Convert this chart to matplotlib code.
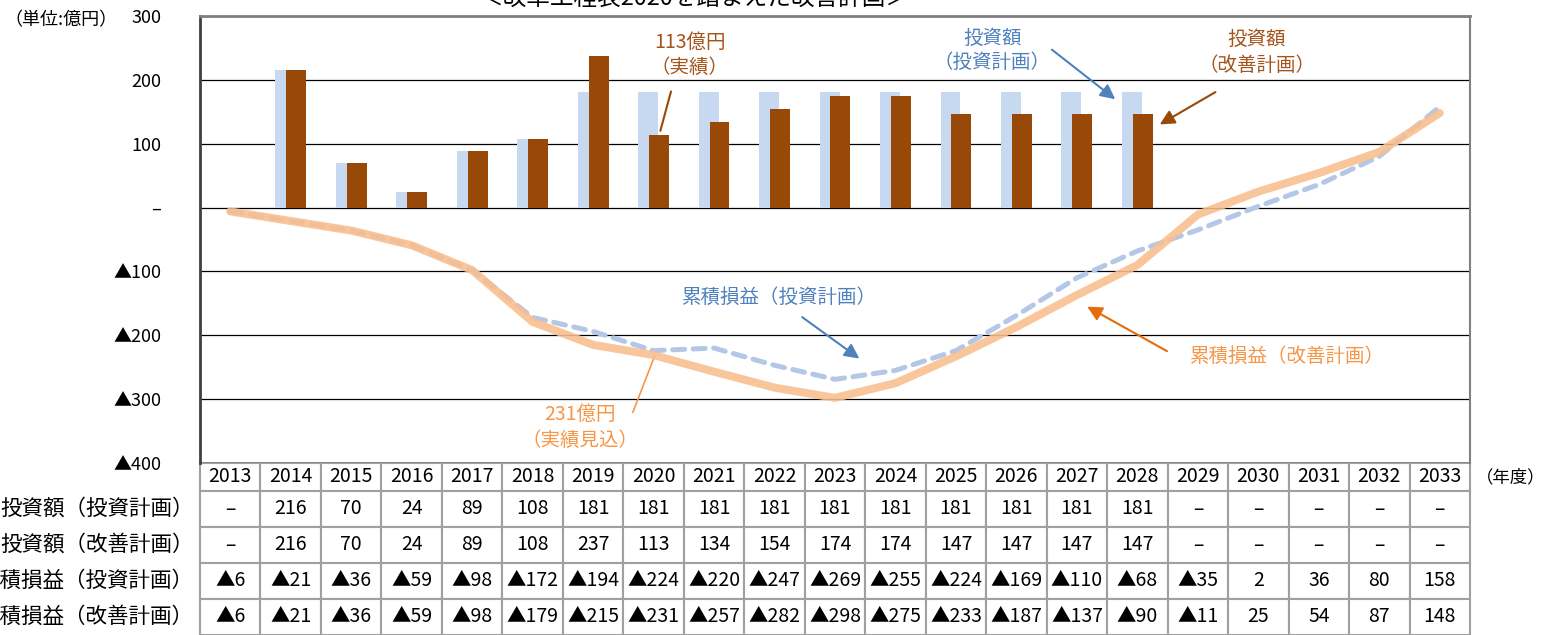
import numpy as np
import matplotlib
matplotlib.use("Agg")
import matplotlib.pyplot as plt

plt.rcParams['font.family'] = ['Noto Sans CJK JP', 'DejaVu Sans']

# data
years = [str(y) for y in range(2013, 2034)]
inv_plan = [None, 216, 70, 24, 89, 108, 181, 181, 181, 181, 181, 181, 181, 181, 181, 181,
            None, None, None, None, None]
inv_improve = [None, 216, 70, 24, 89, 108, 237, 113, 134, 154, 174, 174, 147, 147, 147, 147,
               None, None, None, None, None]
cum_plan = [-6, -21, -36, -59, -98, -172, -194, -224, -220, -247, -269, -255, -224, -169,
            -110, -68, -35, 2, 36, 80, 158]
cum_improve = [-6, -21, -36, -59, -98, -179, -215, -231, -257, -282, -298, -275, -233, -187,
               -137, -90, -11, 25, 54, 87, 148]
row_labels = ["投資額（投資計画）", "投資額（改善計画）", "累積損益（投資計画）", "累積損益（改善計画）"]
ytick_vals = [300, 200, 100, 0, -100, -200, -300, -400]

BLUE_BAR = "#C6D9F1"
BROWN = "#984807"
ORANGE_LINE = "#F9BE8E"
BLUE_LINE = "#B4C7E7"
BLUE_TXT = "#4F81BD"
BROWN_TXT = "#A5541A"
ORANGE_TXT = "#F79646"


def fmt(v):
    if v is None:
        return "–"
    if v < 0:
        return "▲" + str(-v)
    return str(v)


fig = plt.figure(figsize=(15.45, 6.35), dpi=100)
ax = fig.add_axes([200 / 1545, 1 - 463 / 635, 1270 / 1545, 447 / 635])

x = np.arange(len(years))
w = 0.33
off = 0.09
bx = [i for i, v in enumerate(inv_plan) if v is not None]
ax.bar([i - off for i in bx], [inv_plan[i] for i in bx], width=w, color=BLUE_BAR, zorder=2)
bx2 = [i for i, v in enumerate(inv_improve) if v is not None]
ax.bar([i + off for i in bx2], [inv_improve[i] for i in bx2], width=w, color=BROWN, zorder=3)

# cumulative lines
ax.plot(x, cum_plan, color=BLUE_LINE, lw=3.6, linestyle=(0, (2.4, 1.7)),
        dash_capstyle='round', zorder=4)
ax.plot(x, cum_improve, color=ORANGE_LINE, lw=5.8, alpha=0.88,
        solid_capstyle='round', solid_joinstyle='round', zorder=5)

ax.set_xlim(-0.5, len(years) - 0.5)
ax.set_ylim(-400, 300)
ax.set_xticks([])
ax.set_yticks(ytick_vals)
ax.set_yticklabels([fmt(v) if v != 0 else "–" for v in ytick_vals], fontsize=13)
ax.tick_params(axis='y', length=0, pad=28)
ax.yaxis.grid(True, color='black', lw=0.9)
ax.set_axisbelow(True)
for s in ['top', 'right']:
    ax.spines[s].set_color('#808080')
ax.spines['top'].set_linewidth(2)
ax.spines['right'].set_linewidth(1.5)
ax.spines['left'].set_color('#404040')
ax.spines['left'].set_linewidth(2)
ax.spines['bottom'].set_visible(False)

# annotations
fs = 14
ax.text(7.6, 239, "113億円\n（実績）", color=BROWN_TXT, fontsize=fs, ha='center', va='center',
        linespacing=1.3)
ax.annotate("", xy=(7.1, 116), xytext=(7.3, 186),
            arrowprops=dict(arrowstyle='-', color=BROWN, lw=1.5))
ax.text(12.6, 246, "投資額\n（投資計画）", color=BLUE_TXT, fontsize=fs, ha='center', va='center',
        linespacing=1.2)
ax.annotate("", xy=(14.67, 167), xytext=(13.55, 250),
            arrowprops=dict(arrowstyle='-|>', color=BLUE_TXT, lw=1.5, mutation_scale=22))
ax.text(16.97, 243, "投資額\n（改善計画）", color=BROWN_TXT, fontsize=fs, ha='center', va='center',
        linespacing=1.3)
ax.annotate("", xy=(15.33, 128), xytext=(16.33, 183),
            arrowprops=dict(arrowstyle='-|>', color=BROWN, lw=1.5, mutation_scale=22))
ax.text(9.09, -141, "累積損益（投資計画）", color=BLUE_TXT, fontsize=fs, ha='center', va='center')
ax.annotate("", xy=(10.44, -239), xytext=(9.42, -169),
            arrowprops=dict(arrowstyle='-|>', color=BLUE_TXT, lw=1.5, mutation_scale=22))
ax.text(17.48, -233, "累積損益（改善計画）", color=ORANGE_TXT, fontsize=fs, ha='center', va='center')
ax.annotate("", xy=(14.13, -153), xytext=(15.53, -227),
            arrowprops=dict(arrowstyle='-|>', color='#E46C0A', lw=1.5, mutation_scale=22))
ax.text(5.78, -344, "231億円\n（実績見込）", color=ORANGE_TXT, fontsize=fs, ha='center', va='center',
        linespacing=1.3)
ax.annotate("", xy=(7.04, -227), xytext=(6.64, -325),
            arrowprops=dict(arrowstyle='-', color=ORANGE_TXT, lw=1.2))

# table under the chart
cell_rows = [years,
             [fmt(v) for v in inv_plan],
             [fmt(v) for v in inv_improve],
             [fmt(v) for v in cum_plan],
             [fmt(v) for v in cum_improve]]
heights = [28, 36, 36, 36, 36]
total_h = sum(heights)
tbl = ax.table(cellText=cell_rows, cellLoc='center', bbox=[0, -total_h / 447, 1, total_h / 447])
tbl.auto_set_font_size(False)
for (r, c), cell in tbl.get_celld().items():
    cell.set_height(heights[r])
    cell.set_edgecolor('#A0A0A0')
    cell.set_linewidth(1.5)
    cell.get_text().set_fontsize(14)

# row labels (cut at the left edge like the source)
top = 0
centers = []
for h in heights:
    centers.append(-(top + h / 2) / 447)
    top += h
for lab, cy in zip(row_labels, centers[1:]):
    ax.text(-6 / 1270, cy, lab, transform=ax.transAxes, ha='right', va='center', fontsize=15.5,
            clip_on=False)

ax.text(1.0 + 6 / 1270, centers[0], "（年度）", transform=ax.transAxes, ha='left', va='center',
        fontsize=12.5)
fig.text(4 / 1545, 1 - 20 / 635, "（単位:億円）", ha='left', va='center', fontsize=13)
fig.text(695 / 1545, 1 - 5 / 635, "＜改革工程表2020を踏まえた改善計画＞", ha='center',
         va='baseline', fontsize=17)

fig.savefig("out.png", dpi=100)
